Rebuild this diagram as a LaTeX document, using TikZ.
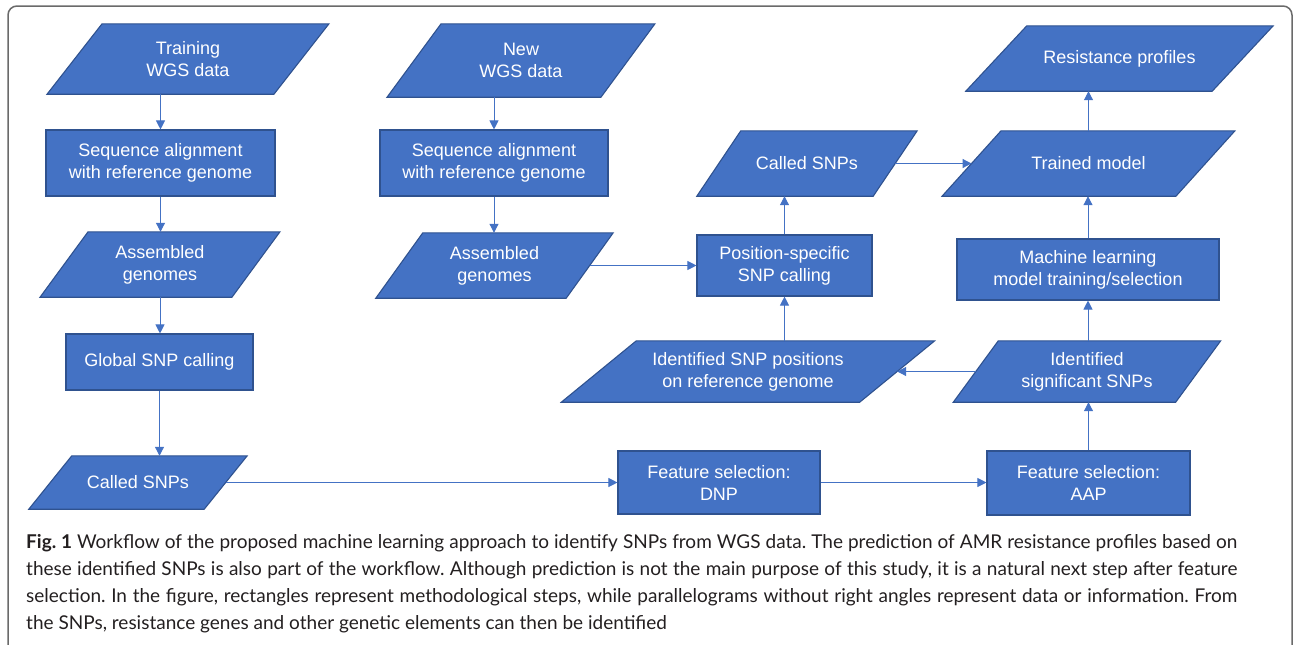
\documentclass[tikz,border=0pt]{standalone}
\usepackage{fontspec}
\setmainfont{Liberation Sans}
\newfontfamily\capfont{Lato}
\usepackage{tikz}
\usetikzlibrary{calc,backgrounds,arrows.meta}
\definecolor{boxfill}{HTML}{4472C4}
\definecolor{boxline}{HTML}{2F528F}
\definecolor{frame}{HTML}{6A6A6A}
\definecolor{captext}{HTML}{231F20}
\tikzset{
  proc/.style={draw=boxline, fill=boxfill, line width=1.1pt, text=white,
    align=center, inner sep=0pt, font=\fontsize{18}{22}\selectfont},
  datatxt/.style={text=white, align=center, inner sep=0pt,
    font=\fontsize{18}{22}\selectfont},
  databox/.style={draw=boxline, fill=boxfill, line width=1.1pt},
  arr/.style={draw=boxfill, line width=1pt, -{Triangle[length=9pt,width=9pt]}},
  caption/.style={text=captext, text width=1211pt, align=justify, inner sep=0pt,
    font=\capfont\fontsize{19}{27}\selectfont\frenchspacing}
}
% name, centre, width, height, slant, text
\newcommand{\datanode}[6]{%
  \node[datatxt, minimum width=#3pt, minimum height=#4pt] (#1) at (#2) {#6};
  \begin{scope}[on background layer]
    \filldraw[databox] ($(#1.north west)+(#5,0)$) -- ($(#1.north east)+(#5,0)$)
      -- ($(#1.south east)-(#5,0)$) -- ($(#1.south west)-(#5,0)$) -- cycle;
  \end{scope}}

\begin{document}
\begin{tikzpicture}[x=1pt,y=-1pt]
  \useasboundingbox (0,0) rectangle (1294,645);
  \draw[frame, line width=1.5pt, rounded corners=9pt] (8,645) -- (8,6) -- (1292,6) -- (1292,645);

  % training branch
  \datanode{train}{188,59}{226.5}{70}{27.5}{Training\\WGS data}
  \node[proc, minimum width=229pt, minimum height=66pt] (align1) at (160.5,163) {Sequence alignment\\with reference genome};
  \datanode{asm1}{160,264.5}{191.5}{65}{24}{Assembled\\genomes}
  \node[proc, minimum width=187pt, minimum height=56pt] (global) at (159.5,362) {Global SNP calling};
  \datanode{called1}{138,482.5}{175}{53}{21.5}{Called SNPs}

  % new data branch
  \datanode{new}{521,60.5}{213.5}{73}{27}{New\\WGS data}
  \node[proc, minimum width=228pt, minimum height=66pt] (align2) at (494,163) {Sequence alignment\\with reference genome};
  \datanode{asm2}{494.5,265.5}{190}{65}{23.5}{Assembled\\genomes}
  \node[proc, minimum width=175pt, minimum height=61pt] (posspec) at (784.5,265.5) {Position-specific\\SNP calling};
  \datanode{called2}{807,163.5}{176}{65}{22}{Called SNPs}

  % feature selection and model
  \node[proc, minimum width=202pt, minimum height=63pt] (dnp) at (719,482.5) {Feature selection:\\DNP};
  \node[proc, minimum width=203pt, minimum height=64pt] (aap) at (1088.5,483) {Feature selection:\\AAP};
  \datanode{sig}{1087,371.5}{222}{61}{22.5}{Identified\\significant SNPs}
  \datanode{snppos}{748,371.5}{298}{61}{37.5}{Identified SNP positions\\on reference genome}
  \node[proc, minimum width=262pt, minimum height=61pt] (mltrain) at (1088,269.5) {Machine learning\\model training/selection};
  \datanode{trained}{1088.5,163.5}{233.5}{65}{29.5}{Trained model}
  \datanode{resist}{1119.5,58.5}{246}{65}{30.5}{Resistance profiles}

  \draw[arr] (train.south -| align1) -- (align1.north);
  \draw[arr] (align1.south) -- (align1.south |- asm1.north);
  \draw[arr] (asm1.south) -- (asm1.south |- global.north);
  \draw[arr] (global.south) -- (global.south |- called1.north);
  \draw[arr] (called1.east) -- (called1.east -| dnp.west);
  \draw[arr] (new.south -| align2) -- (align2.north);
  \draw[arr] (align2.south) -- (align2.south |- asm2.north);
  \draw[arr] (asm2.east) -- (asm2.east -| posspec.west);
  \draw[arr] (posspec.north) -- (posspec.north |- called2.south);
  \draw[arr] (called2.east) -- (called2.east -| trained.west);
  \draw[arr] (dnp.east) -- (dnp.east -| aap.west);
  \draw[arr] (aap.north) -- (aap.north |- sig.south);
  \draw[arr] (sig.west) -- (sig.west -| snppos.east);
  \draw[arr] (posspec.south |- snppos.north) -- (posspec.south);
  \draw[arr] (sig.north -| mltrain) -- (mltrain.south);
  \draw[arr] (mltrain.north) -- (mltrain.north |- trained.south);
  \draw[arr] (trained.north) -- (trained.north |- resist.south);

  \node[caption, anchor=north west] (cap) at (26,534) {{\bfseries Fig. 1} Workflow of the proposed machine learning approach to identify SNPs from WGS data. The prediction of AMR resistance profiles based on\linebreak
  these identified SNPs is also part of the workflow. Although prediction is not the main purpose of this study, it is a natural next step after feature\linebreak
  selection. In the figure, rectangles represent methodological steps, while parallelograms without right angles represent data or information. From\linebreak
  the SNPs, resistance genes and other genetic elements can then be identified};
\end{tikzpicture}
\end{document}
